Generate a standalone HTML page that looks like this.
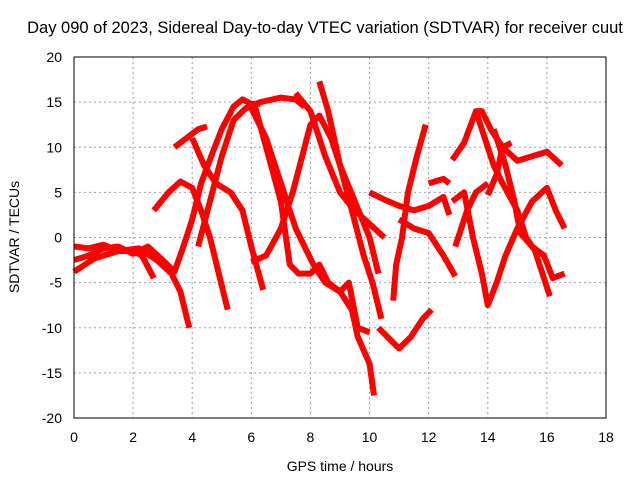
<!DOCTYPE html>
<html><head><meta charset="utf-8"><style>
body{margin:0;background:#fff;}
svg text{font-family:"Liberation Sans",sans-serif;font-size:14px;fill:#000;}
</style></head><body>
<svg id="chart" width="640" height="480">
<text x="325" y="33" text-anchor="middle" style="font-size:16.5px">Day 090 of 2023, Sidereal Day-to-day VTEC variation (SDTVAR) for receiver cuut</text>
<g id="grid"></g>
<g id="series"></g>
<rect x="74" y="57" width="532" height="361" fill="none" stroke="#000"/>
<g id="axes"></g>
<text x="340" y="471" text-anchor="middle">GPS time / hours</text>
<text transform="translate(19,237) rotate(-90)" text-anchor="middle">SDTVAR / TECUs</text>
</svg>
<script>
const xTicks=[0,2,4,6,8,10,12,14,16,18];
const yTicks=[-20,-15,-10,-5,0,5,10,15,20];
const tracks=[
[[0,-1],[0.5,-1.2],[1,-0.8],[1.5,-1.5],[2,-1.5],[2.3,-2],[2.7,-4.5]],
[[0,-3.8],[0.7,-2.3],[1.5,-1.5],[2.2,-1.2],[2.8,-2.5],[3.3,-4],[3.6,-6],[3.9,-10]],
[[0,-2.5],[0.5,-2],[1,-1.2],[1.5,-1],[2,-1.8],[2.5,-1],[3,-2.5],[3.4,-3.8],[3.7,-1],[4,2],[4.3,6],[4.7,9.5],[5,12],[5.4,14.5],[5.7,15.3],[6,14.8],[6.3,14.8]],
[[2.7,3],[3.2,5],[3.6,6.2],[4,5.5],[4.3,3],[4.6,0],[4.9,-4],[5.2,-8]],
[[3.4,10],[3.8,11],[4.2,12],[4.5,12.3]],
[[4,11],[4.4,8],[4.8,6],[5.3,5],[5.7,3],[6,-1],[6.4,-5.8]],
[[4.2,-1],[4.6,4],[5,9],[5.4,13],[5.8,14.3],[6.3,15],[7,15.5],[7.5,15.3],[7.8,14.5]],
[[5.9,15],[6.5,11],[7,6],[7.5,1],[7.8,-1],[8.1,-3],[8.5,-5],[9,-6],[9.4,-8],[9.6,-11],[10,-14],[10.15,-17.5]],
[[6,-2.7],[6.5,-2],[7,1],[7.4,5],[7.8,10],[8,12.5],[8.3,13.5],[8.7,11],[9,8],[9.4,3],[9.8,-2],[10.1,-5],[10.4,-9]],
[[6.1,14.8],[6.5,10],[7,4],[7.3,-3],[7.6,-4],[8,-4],[8.3,-3],[8.6,-5],[9,-6],[9.3,-5],[9.6,-10],[10,-10.5]],
[[8.3,17.3],[8.6,14],[9,8],[9.5,4],[10,0],[10.3,-4]],
[[7.5,16],[8,14],[8.5,9],[9,5],[9.5,3],[10,1.5],[10.5,0]],
[[10.3,-10],[10.6,-11],[11,-12.3],[11.4,-11],[11.8,-9],[12.1,-8]],
[[10.8,-7],[10.9,-3],[11.1,0],[11.3,5],[11.6,9],[11.9,12.5]],
[[10,5],[10.5,4.2],[11,3.5],[11.5,3],[12,3.5],[12.5,4.5],[12.7,2.5]],
[[11,2],[11.5,1],[12,0.5],[12.5,-2],[12.9,-4.3]],
[[12,6],[12.5,6.5],[12.7,6]],
[[12.8,8.6],[13.2,10.5],[13.6,14],[13.8,14],[14.1,12],[14.5,10],[15,8.5],[15.5,9],[16,9.5],[16.5,8]],
[[13.6,14],[13.8,12],[14.2,8],[14.5,6],[15,3],[15.3,0],[15.6,-1.5],[16.1,-6.5]],
[[12.8,4],[13.2,5],[13.5,0],[13.8,-4],[14,-7.5],[14.3,-5],[14.6,-2],[15,1],[15.5,4],[16,5.5],[16.3,3],[16.6,1]],
[[14,4.7],[14.3,7],[14.5,10],[14.8,10.5]],
[[14.2,12],[14.6,8],[14.9,4],[15.1,0.5],[15.5,-1],[15.9,-2],[16.2,-4.5],[16.6,-4]],
[[12.9,-1],[13.1,1],[13.3,3],[13.6,5],[14,6]]
];
const X=v=>74+v*532/18, Y=v=>237.5-v*361/40;
const ns='http://www.w3.org/2000/svg';
const grid=document.getElementById('grid'),axes=document.getElementById('axes'),ser=document.getElementById('series');
xTicks.forEach(t=>{
 if(t>0&&t<18){const l=document.createElementNS(ns,'line');
 l.setAttribute('x1',X(t));l.setAttribute('x2',X(t));l.setAttribute('y1',57);l.setAttribute('y2',418);
 l.setAttribute('stroke','#a0a0a0');l.setAttribute('stroke-dasharray','2,3');
 
 grid.appendChild(l);}
 const tx=document.createElementNS(ns,'text');tx.setAttribute('x',X(t));tx.setAttribute('y',442);tx.setAttribute('text-anchor','middle');tx.textContent=t;
 
 axes.appendChild(tx);
});
yTicks.forEach(t=>{
 if(t>-20&&t<20){const l=document.createElementNS(ns,'line');
 l.setAttribute('x1',74);l.setAttribute('x2',606);l.setAttribute('y1',Y(t));l.setAttribute('y2',Y(t));
 l.setAttribute('stroke','#a0a0a0');l.setAttribute('stroke-dasharray','2,3');
 
 grid.appendChild(l);}
 const tx=document.createElementNS(ns,'text');tx.setAttribute('x',62);tx.setAttribute('y',Y(t)+5);tx.setAttribute('text-anchor','end');tx.textContent=t;
 
 axes.appendChild(tx);
});
tracks.forEach(tr=>{
 const p=document.createElementNS(ns,'polyline');
 p.setAttribute('points',tr.map(d=>X(d[0])+','+Y(d[1])).join(' '));
 p.setAttribute('fill','none');p.setAttribute('stroke','#ff0000');p.setAttribute('stroke-width','6');
 p.setAttribute('stroke-linejoin','round');
 
 ser.appendChild(p);
});
</script>
</body></html>
